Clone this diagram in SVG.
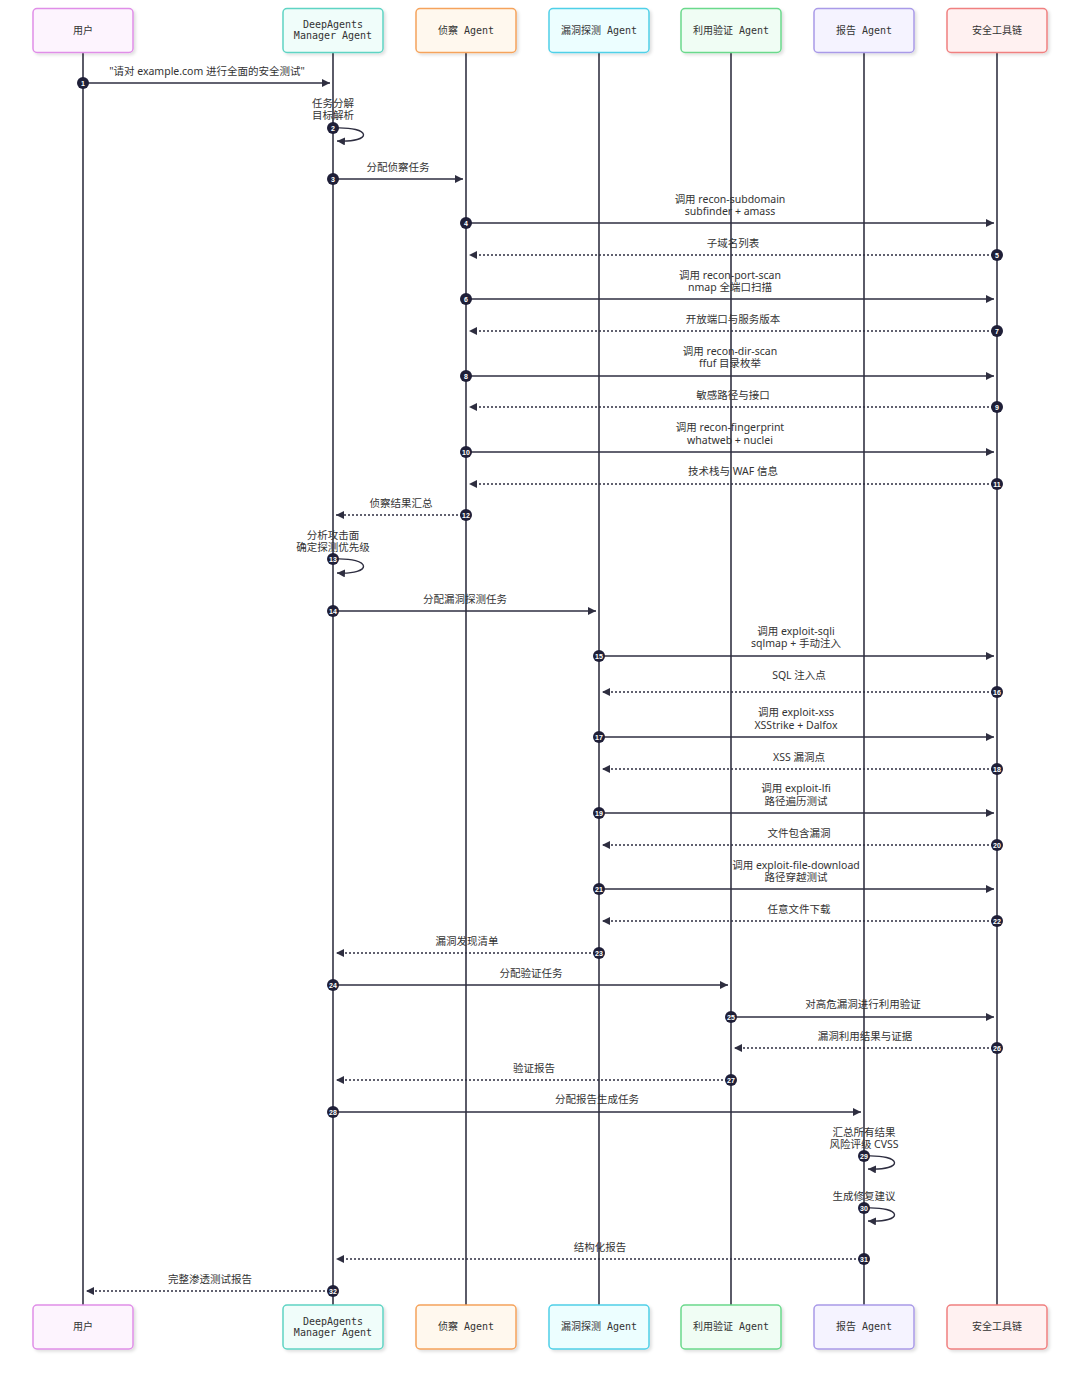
<svg xmlns="http://www.w3.org/2000/svg" width="1080" height="1377" viewBox="0 0 1080 1377">
<defs>
<style>
.bg{fill:#ffffff}
.actor rect{stroke-width:1.5}
.atext{font-family:"DejaVu Sans Mono","Noto Sans CJK SC",monospace;font-size:10px;fill:#333;text-anchor:middle}
.life{stroke:#4a4a58;stroke-width:1.8}
.msg{stroke:#2e2e40;stroke-width:1.4;fill:none}
.dash{stroke-dasharray:2,2}
.lbl{font-family:"Noto Sans","Noto Sans CJK SC",sans-serif;font-size:10.5px;fill:#333;text-anchor:middle}
.num circle{fill:#1f1f38}
.num text{font-family:"Liberation Sans",sans-serif;font-size:7px;fill:#fff;text-anchor:middle;font-weight:bold}
</style>
<marker id="ah" viewBox="0 0 10 10" refX="10" refY="5" markerWidth="8" markerHeight="8" markerUnits="userSpaceOnUse" orient="auto">
<path d="M0,0 L10,5 L0,10 z" fill="#2e2e40"/>
</marker>
<filter id="sh" x="-10%" y="-10%" width="130%" height="140%">
<feDropShadow dx="2" dy="2" stdDeviation="1.5" flood-color="#000" flood-opacity="0.12"/>
</filter>
</defs>
<rect class="bg" x="0" y="0" width="1080" height="1377"/>

<g id="lifelines">
<line class="life" x1="83" y1="52" x2="83" y2="1305" stroke="#6b6b73"/>
<line class="life" x1="333" y1="52" x2="333" y2="1305"/>
<line class="life" x1="466" y1="52" x2="466" y2="1305"/>
<line class="life" x1="599" y1="52" x2="599" y2="1305"/>
<line class="life" x1="731" y1="52" x2="731" y2="1305"/>
<line class="life" x1="864" y1="52" x2="864" y2="1305"/>
<line class="life" x1="997" y1="52" x2="997" y2="1305"/>
</g>

<g id="actor-user" class="actor">
<rect x="33" y="8.5" width="100" height="44" rx="4" fill="#fdf4fe" stroke="#e08ee8" filter="url(#sh)"/>
<text class="atext" x="83" y="34">用户</text>
<rect x="33" y="1305" width="100" height="44" rx="4" fill="#fdf4fe" stroke="#e08ee8" filter="url(#sh)"/>
<text class="atext" x="83" y="1330">用户</text>
</g>
<g id="actor-manager" class="actor">
<rect x="283" y="8.5" width="100" height="44" rx="4" fill="#f0fdfa" stroke="#5fd4c4" filter="url(#sh)"/>
<text class="atext" x="333" y="28">DeepAgents</text>
<text class="atext" x="333" y="39">Manager Agent</text>
<rect x="283" y="1305" width="100" height="44" rx="4" fill="#f0fdfa" stroke="#5fd4c4" filter="url(#sh)"/>
<text class="atext" x="333" y="1324.5">DeepAgents</text>
<text class="atext" x="333" y="1335.5">Manager Agent</text>
</g>
<g id="actor-recon" class="actor">
<rect x="416" y="8.5" width="100" height="44" rx="4" fill="#fff8ee" stroke="#f5a35c" filter="url(#sh)"/>
<text class="atext" x="466" y="34">侦察 Agent</text>
<rect x="416" y="1305" width="100" height="44" rx="4" fill="#fff8ee" stroke="#f5a35c" filter="url(#sh)"/>
<text class="atext" x="466" y="1330">侦察 Agent</text>
</g>
<g id="actor-vuln" class="actor">
<rect x="549" y="8.5" width="100" height="44" rx="4" fill="#ecfeff" stroke="#4fd0e8" filter="url(#sh)"/>
<text class="atext" x="599" y="34">漏洞探测 Agent</text>
<rect x="549" y="1305" width="100" height="44" rx="4" fill="#ecfeff" stroke="#4fd0e8" filter="url(#sh)"/>
<text class="atext" x="599" y="1330">漏洞探测 Agent</text>
</g>
<g id="actor-exploit" class="actor">
<rect x="681" y="8.5" width="100" height="44" rx="4" fill="#f0fdf4" stroke="#6bd98c" filter="url(#sh)"/>
<text class="atext" x="731" y="34">利用验证 Agent</text>
<rect x="681" y="1305" width="100" height="44" rx="4" fill="#f0fdf4" stroke="#6bd98c" filter="url(#sh)"/>
<text class="atext" x="731" y="1330">利用验证 Agent</text>
</g>
<g id="actor-report" class="actor">
<rect x="814" y="8.5" width="100" height="44" rx="4" fill="#f5f3ff" stroke="#a99ae8" filter="url(#sh)"/>
<text class="atext" x="864" y="34">报告 Agent</text>
<rect x="814" y="1305" width="100" height="44" rx="4" fill="#f5f3ff" stroke="#a99ae8" filter="url(#sh)"/>
<text class="atext" x="864" y="1330">报告 Agent</text>
</g>
<g id="actor-tools" class="actor">
<rect x="947" y="8.5" width="100" height="44" rx="4" fill="#fff1f1" stroke="#f08080" filter="url(#sh)"/>
<text class="atext" x="997" y="34">安全工具链</text>
<rect x="947" y="1305" width="100" height="44" rx="4" fill="#fff1f1" stroke="#f08080" filter="url(#sh)"/>
<text class="atext" x="997" y="1330">安全工具链</text>
</g>

<g id="connectors">
<line class="msg" x1="83" y1="83" x2="330" y2="83" marker-end="url(#ah)"/>
<path class="msg" d="M333,128 C373,126 373,143 337,141" marker-end="url(#ah)"/>
<line class="msg" x1="333" y1="179" x2="463" y2="179" marker-end="url(#ah)"/>
<line class="msg" x1="466" y1="223" x2="994" y2="223" marker-end="url(#ah)"/>
<line class="msg dash" x1="997" y1="255" x2="469" y2="255" marker-end="url(#ah)"/>
<line class="msg" x1="466" y1="299" x2="994" y2="299" marker-end="url(#ah)"/>
<line class="msg dash" x1="997" y1="331" x2="469" y2="331" marker-end="url(#ah)"/>
<line class="msg" x1="466" y1="376" x2="994" y2="376" marker-end="url(#ah)"/>
<line class="msg dash" x1="997" y1="407" x2="469" y2="407" marker-end="url(#ah)"/>
<line class="msg" x1="466" y1="452" x2="994" y2="452" marker-end="url(#ah)"/>
<line class="msg dash" x1="997" y1="484" x2="469" y2="484" marker-end="url(#ah)"/>
<line class="msg dash" x1="466" y1="515" x2="336" y2="515" marker-end="url(#ah)"/>
<path class="msg" d="M333,559 C373,557 373,575 337,573" marker-end="url(#ah)"/>
<line class="msg" x1="333" y1="611" x2="596" y2="611" marker-end="url(#ah)"/>
<line class="msg" x1="599" y1="656" x2="994" y2="656" marker-end="url(#ah)"/>
<line class="msg dash" x1="997" y1="692" x2="602" y2="692" marker-end="url(#ah)"/>
<line class="msg" x1="599" y1="737" x2="994" y2="737" marker-end="url(#ah)"/>
<line class="msg dash" x1="997" y1="769" x2="602" y2="769" marker-end="url(#ah)"/>
<line class="msg" x1="599" y1="813" x2="994" y2="813" marker-end="url(#ah)"/>
<line class="msg dash" x1="997" y1="845" x2="602" y2="845" marker-end="url(#ah)"/>
<line class="msg" x1="599" y1="889" x2="994" y2="889" marker-end="url(#ah)"/>
<line class="msg dash" x1="997" y1="921" x2="602" y2="921" marker-end="url(#ah)"/>
<line class="msg dash" x1="599" y1="953" x2="336" y2="953" marker-end="url(#ah)"/>
<line class="msg" x1="333" y1="985" x2="728" y2="985" marker-end="url(#ah)"/>
<line class="msg" x1="731" y1="1017" x2="994" y2="1017" marker-end="url(#ah)"/>
<line class="msg dash" x1="997" y1="1048" x2="734" y2="1048" marker-end="url(#ah)"/>
<line class="msg dash" x1="731" y1="1080" x2="336" y2="1080" marker-end="url(#ah)"/>
<line class="msg" x1="333" y1="1112" x2="861" y2="1112" marker-end="url(#ah)"/>
<path class="msg" d="M864,1156 C904,1154 904,1171 868,1169" marker-end="url(#ah)"/>
<path class="msg" d="M864,1208 C904,1206 904,1223 868,1221" marker-end="url(#ah)"/>
<line class="msg dash" x1="864" y1="1259" x2="336" y2="1259" marker-end="url(#ah)"/>
<line class="msg dash" x1="333" y1="1291" x2="86" y2="1291" marker-end="url(#ah)"/>
</g>

<g id="labels">
<text class="lbl" x="207" y="74.5">"请对 example.com 进行全面的安全测试"</text>
<text class="lbl" x="333" y="106.5">任务分解</text>
<text class="lbl" x="333" y="118.5">目标解析</text>
<text class="lbl" x="398" y="170.5">分配侦察任务</text>
<text class="lbl" x="730" y="202.5">调用 recon-subdomain</text>
<text class="lbl" x="730" y="214.5">subfinder + amass</text>
<text class="lbl" x="733" y="246.5">子域名列表</text>
<text class="lbl" x="730" y="278.5">调用 recon-port-scan</text>
<text class="lbl" x="730" y="290.5">nmap 全端口扫描</text>
<text class="lbl" x="733" y="322.5">开放端口与服务版本</text>
<text class="lbl" x="730" y="354.5">调用 recon-dir-scan</text>
<text class="lbl" x="730" y="366.5">ffuf 目录枚举</text>
<text class="lbl" x="733" y="398.5">敏感路径与接口</text>
<text class="lbl" x="730" y="430.5">调用 recon-fingerprint</text>
<text class="lbl" x="730" y="443.5">whatweb + nuclei</text>
<text class="lbl" x="733" y="474.5">技术栈与 WAF 信息</text>
<text class="lbl" x="401" y="506.5">侦察结果汇总</text>
<text class="lbl" x="333" y="538.5">分析攻击面</text>
<text class="lbl" x="333" y="550.5">确定探测优先级</text>
<text class="lbl" x="465" y="602.5">分配漏洞探测任务</text>
<text class="lbl" x="796" y="634.5">调用 exploit-sqli</text>
<text class="lbl" x="796" y="646.5">sqlmap + 手动注入</text>
<text class="lbl" x="799" y="678.5">SQL 注入点</text>
<text class="lbl" x="796" y="715.5">调用 exploit-xss</text>
<text class="lbl" x="796" y="728.5">XSStrike + Dalfox</text>
<text class="lbl" x="799" y="760.5">XSS 漏洞点</text>
<text class="lbl" x="796" y="791.5">调用 exploit-lfi</text>
<text class="lbl" x="796" y="804.5">路径遍历测试</text>
<text class="lbl" x="799" y="836.5">文件包含漏洞</text>
<text class="lbl" x="796" y="868.5">调用 exploit-file-download</text>
<text class="lbl" x="796" y="880.5">路径穿越测试</text>
<text class="lbl" x="799" y="912.5">任意文件下载</text>
<text class="lbl" x="467" y="944.5">漏洞发现清单</text>
<text class="lbl" x="531" y="976.5">分配验证任务</text>
<text class="lbl" x="863" y="1007.5">对高危漏洞进行利用验证</text>
<text class="lbl" x="865" y="1039.5">漏洞利用结果与证据</text>
<text class="lbl" x="534" y="1071.5">验证报告</text>
<text class="lbl" x="597" y="1102.5">分配报告生成任务</text>
<text class="lbl" x="864" y="1135.5">汇总所有结果</text>
<text class="lbl" x="864" y="1147.5">风险评级 CVSS</text>
<text class="lbl" x="864" y="1199.5">生成修复建议</text>
<text class="lbl" x="600" y="1250.5">结构化报告</text>
<text class="lbl" x="210" y="1282.5">完整渗透测试报告</text>
</g>

<g id="numbers" class="num">
<g><circle cx="83" cy="83" r="6"/><text x="83" y="85.5">1</text></g>
<g><circle cx="333" cy="128" r="6"/><text x="333" y="130.5">2</text></g>
<g><circle cx="333" cy="179" r="6"/><text x="333" y="181.5">3</text></g>
<g><circle cx="466" cy="223" r="6"/><text x="466" y="225.5">4</text></g>
<g><circle cx="997" cy="255" r="6"/><text x="997" y="257.5">5</text></g>
<g><circle cx="466" cy="299" r="6"/><text x="466" y="301.5">6</text></g>
<g><circle cx="997" cy="331" r="6"/><text x="997" y="333.5">7</text></g>
<g><circle cx="466" cy="376" r="6"/><text x="466" y="378.5">8</text></g>
<g><circle cx="997" cy="407" r="6"/><text x="997" y="409.5">9</text></g>
<g><circle cx="466" cy="452" r="6"/><text x="466" y="454.5">10</text></g>
<g><circle cx="997" cy="484" r="6"/><text x="997" y="486.5">11</text></g>
<g><circle cx="466" cy="515" r="6"/><text x="466" y="517.5">12</text></g>
<g><circle cx="333" cy="559" r="6"/><text x="333" y="561.5">13</text></g>
<g><circle cx="333" cy="611" r="6"/><text x="333" y="613.5">14</text></g>
<g><circle cx="599" cy="656" r="6"/><text x="599" y="658.5">15</text></g>
<g><circle cx="997" cy="692" r="6"/><text x="997" y="694.5">16</text></g>
<g><circle cx="599" cy="737" r="6"/><text x="599" y="739.5">17</text></g>
<g><circle cx="997" cy="769" r="6"/><text x="997" y="771.5">18</text></g>
<g><circle cx="599" cy="813" r="6"/><text x="599" y="815.5">19</text></g>
<g><circle cx="997" cy="845" r="6"/><text x="997" y="847.5">20</text></g>
<g><circle cx="599" cy="889" r="6"/><text x="599" y="891.5">21</text></g>
<g><circle cx="997" cy="921" r="6"/><text x="997" y="923.5">22</text></g>
<g><circle cx="599" cy="953" r="6"/><text x="599" y="955.5">23</text></g>
<g><circle cx="333" cy="985" r="6"/><text x="333" y="987.5">24</text></g>
<g><circle cx="731" cy="1017" r="6"/><text x="731" y="1019.5">25</text></g>
<g><circle cx="997" cy="1048" r="6"/><text x="997" y="1050.5">26</text></g>
<g><circle cx="731" cy="1080" r="6"/><text x="731" y="1082.5">27</text></g>
<g><circle cx="333" cy="1112" r="6"/><text x="333" y="1114.5">28</text></g>
<g><circle cx="864" cy="1156" r="6"/><text x="864" y="1158.5">29</text></g>
<g><circle cx="864" cy="1208" r="6"/><text x="864" y="1210.5">30</text></g>
<g><circle cx="864" cy="1259" r="6"/><text x="864" y="1261.5">31</text></g>
<g><circle cx="333" cy="1291" r="6"/><text x="333" y="1293.5">32</text></g>
</g>
</svg>
